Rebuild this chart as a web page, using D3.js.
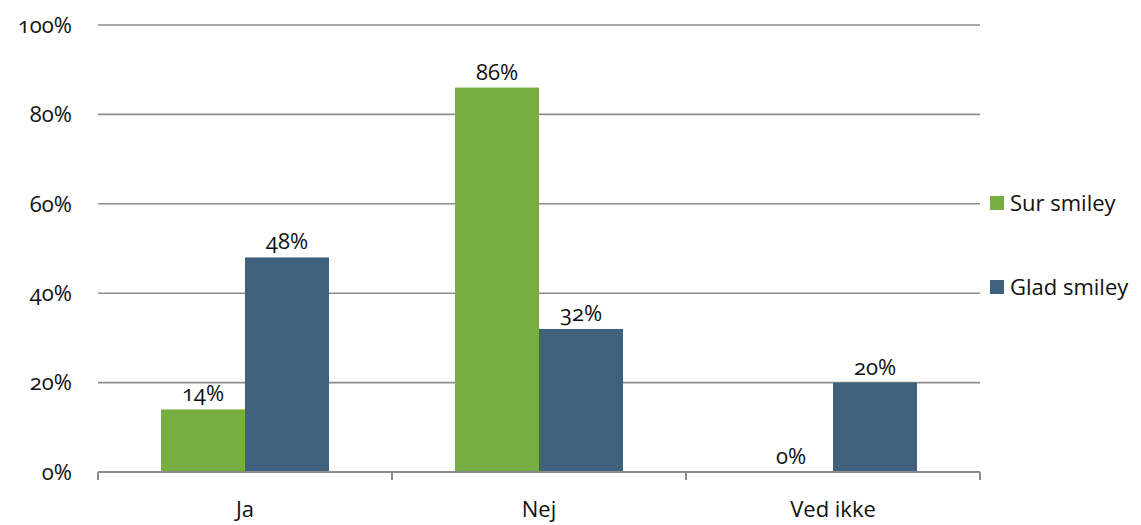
<!DOCTYPE html>
<html>
<head>
<meta charset="utf-8">
<script src="https://cdn.jsdelivr.net/npm/d3@7"></script>
<style>
  body { margin: 0; background: #fff; }
  text { font-family: "Open Sans", Lato, sans-serif; fill: #111; }
  .num { font-variant-numeric: oldstyle-nums; font-feature-settings: "onum" 1; }
  .grid line { stroke: #8c8c8c; stroke-width: 1.6; }
</style>
</head>
<body>
<script>
(function () {
  "use strict";
  var categories = ["Ja", "Nej", "Ved ikke"],
    series = ["Sur smiley", "Glad smiley"],
    surValues = [14, 86, 0],
    gladValues = [48, 32, 20],
    yTicks = [0, 20, 40, 60, 80, 100],
    colors = ["#78ae41", "#3f617e"];

  var width = 1141, height = 525,
    left = 98, right = 980, top = 25, bottom = 472,
    fs = "22px";

  var svg = d3.select("body").append("svg")
    .attr("width", width)
    .attr("height", height);

  var x0 = d3.scaleBand().domain(categories).range([left, right])
    .paddingInner(0.4286).paddingOuter(0.2143);
  var x1 = d3.scaleBand().domain(series).range([0, x0.bandwidth()]);
  var y = d3.scaleLinear().domain([0, 100]).range([bottom, top]);

  // gridlines
  svg.append("g").attr("class", "grid")
    .selectAll("line")
    .data(yTicks.slice(1))
    .enter().append("line")
    .attr("x1", left).attr("x2", right)
    .attr("y1", function (d) { return y(d); })
    .attr("y2", function (d) { return y(d); });

  // y labels
  svg.append("g").selectAll("text")
    .data(yTicks)
    .enter().append("text")
    .attr("class", "num")
    .attr("x", 72)
    .attr("y", function (d) { return y(d); })
    .attr("dy", "0.35em")
    .attr("text-anchor", "end")
    .style("font-size", fs)
    .text(function (d) { return d + "%"; });

  var rows = categories.map(function (c, i) {
    return { cat: c, vals: [surValues[i], gladValues[i]] };
  });

  var groups = svg.append("g").selectAll("g")
    .data(rows)
    .enter().append("g")
    .attr("transform", function (d) { return "translate(" + x0(d.cat) + ",0)"; });

  groups.selectAll("rect")
    .data(function (d) { return d.vals.map(function (v, i) { return { s: series[i], v: v, i: i }; }); })
    .enter().append("rect")
    .attr("x", function (d) { return x1(d.s); })
    .attr("width", x1.bandwidth())
    .attr("y", function (d) { return y(d.v); })
    .attr("height", function (d) { return bottom - y(d.v); })
    .attr("fill", function (d) { return colors[d.i]; });

  groups.selectAll("text")
    .data(function (d) { return d.vals.map(function (v, i) { return { s: series[i], v: v }; }); })
    .enter().append("text")
    .attr("class", "num")
    .attr("x", function (d) { return x1(d.s) + x1.bandwidth() / 2; })
    .attr("y", function (d) { return y(d.v) - 8; })
    .attr("text-anchor", "middle")
    .style("font-size", fs)
    .text(function (d) { return d.v + "%"; });

  // x axis
  var axis = svg.append("g");
  axis.append("line")
    .attr("x1", left).attr("x2", right)
    .attr("y1", bottom).attr("y2", bottom)
    .attr("stroke", "#8c8c8c").attr("stroke-width", 2);
  var bounds = categories.map(function (c) { return x0(c) - x0.step() * 0.2143; });
  bounds.push(right);
  axis.selectAll(".tick")
    .data(bounds)
    .enter().append("line")
    .attr("class", "tick")
    .attr("x1", function (d) { return d; }).attr("x2", function (d) { return d; })
    .attr("y1", bottom).attr("y2", bottom + 8)
    .attr("stroke", "#8c8c8c").attr("stroke-width", 2);
  axis.selectAll("text")
    .data(categories)
    .enter().append("text")
    .attr("x", function (d) { return x0(d) + x0.bandwidth() / 2; })
    .attr("y", 517)
    .attr("text-anchor", "middle")
    .style("font-size", fs)
    .text(function (d) { return d; });

  // legend
  var legend = svg.append("g").selectAll("g")
    .data(series)
    .enter().append("g")
    .attr("transform", function (d, i) { return "translate(990," + (203 + i * 84) + ")"; });
  legend.append("rect")
    .attr("x", 0).attr("y", -7).attr("width", 14).attr("height", 14)
    .attr("fill", function (d, i) { return colors[i]; });
  legend.append("text")
    .attr("x", 20).attr("y", 0).attr("dy", "0.35em")
    .style("font-size", fs)
    .text(function (d) { return d; });
})();
</script>
</body>
</html>
